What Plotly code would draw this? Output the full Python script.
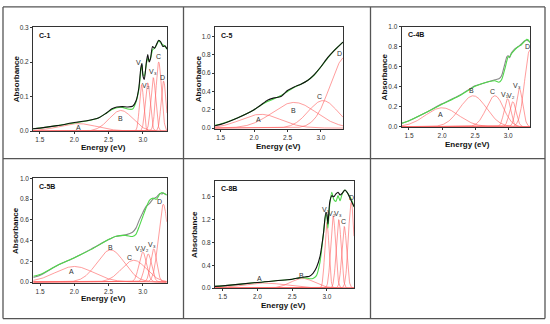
import numpy as np
import plotly.graph_objects as go

W, H = 550, 324

# ---------------- data ----------------
# C-1
E_c1 = [1.40, 1.50, 1.75, 2.00, 2.20, 2.35, 2.45, 2.55, 2.62, 2.70, 2.78, 2.85, 2.90, 2.94, 2.97, 2.985,
        3.00, 3.02, 3.05, 3.07, 3.09, 3.11, 3.14, 3.17, 3.20, 3.23, 3.26, 3.29, 3.32, 3.35]
exp_c1 = [0.007, 0.009, 0.016, 0.025, 0.031, 0.038, 0.050, 0.065, 0.070, 0.071, 0.070, 0.072, 0.088, 0.125,
          0.185, 0.195, 0.160, 0.150, 0.200, 0.222, 0.200, 0.210, 0.245, 0.240, 0.252, 0.263, 0.258, 0.245,
          0.247, 0.238]
fit_c1 = [0.007, 0.009, 0.016, 0.024, 0.030, 0.038, 0.050, 0.063, 0.068, 0.069, 0.064, 0.064, 0.085, 0.120,
          0.175, 0.190, 0.165, 0.160, 0.195, 0.210, 0.205, 0.210, 0.235, 0.240, 0.250, 0.262, 0.255, 0.250,
          0.245, 0.237]
pk_c1_center = [2.05, 2.68, 2.98, 3.07, 3.15, 3.23, 3.30]
pk_c1_height = [0.022, 0.060, 0.135, 0.140, 0.155, 0.200, 0.145]
pk_c1_sigma = [0.28, 0.17, 0.03, 0.035, 0.035, 0.04, 0.035]
lab_c1 = ["A", "B", "V₁", "V₂", "V₃", "C", "D"]
lab_c1_x = [2.06, 2.67, 2.96, 3.05, 3.14, 3.23, 3.28]
lab_c1_y = [0.010, 0.038, 0.198, 0.132, 0.172, 0.217, 0.155]

# C-5
E_c5 = [1.415, 1.5, 1.75, 2.0, 2.1, 2.2, 2.3, 2.4, 2.5, 2.6, 2.7, 2.8, 2.9, 3.0, 3.1, 3.2, 3.25, 3.33]
exp_c5 = [0.025, 0.040, 0.110, 0.200, 0.250, 0.305, 0.330, 0.345, 0.410, 0.450, 0.480, 0.520, 0.585,
          0.670, 0.770, 0.850, 0.885, 0.940]
fit_c5 = [0.030, 0.045, 0.110, 0.200, 0.250, 0.290, 0.320, 0.355, 0.400, 0.445, 0.480, 0.520, 0.580,
          0.670, 0.765, 0.850, 0.885, 0.940]
pk_c5_center = [2.10, 2.60, 3.03, 3.37]
pk_c5_height = [0.15, 0.28, 0.30, 0.78]
pk_c5_sigma = [0.30, 0.33, 0.22, 0.23]
lab_c5 = ["A", "B", "C", "D"]
lab_c5_x = [2.06, 2.59, 2.98, 3.28]
lab_c5_y = [0.09, 0.19, 0.34, 0.82]

# C-4B
E_c4b = [1.39, 1.5, 1.75, 2.0, 2.25, 2.5, 2.6, 2.7, 2.8, 2.86, 2.9, 2.95, 2.98, 3.0, 3.02, 3.05, 3.1,
         3.15, 3.2, 3.25, 3.28, 3.3, 3.33]
exp_c4b = [0.035, 0.060, 0.140, 0.230, 0.310, 0.410, 0.430, 0.450, 0.470, 0.480, 0.510, 0.630, 0.700,
           0.710, 0.690, 0.740, 0.780, 0.800, 0.830, 0.860, 0.865, 0.860, 0.850]
fit_c4b = [0.035, 0.060, 0.140, 0.225, 0.305, 0.405, 0.430, 0.450, 0.460, 0.445, 0.470, 0.580, 0.660,
           0.700, 0.700, 0.730, 0.770, 0.800, 0.820, 0.855, 0.875, 0.870, 0.840]
pk_c4b_center = [2.00, 2.47, 2.80, 2.99, 3.07, 3.17, 3.33]
pk_c4b_height = [0.19, 0.31, 0.31, 0.28, 0.25, 0.38, 0.77]
pk_c4b_sigma = [0.25, 0.20, 0.13, 0.05, 0.05, 0.05, 0.08]
lab_c4b = ["A", "B", "C", "V₁", "V₂", "V₃", "D"]
lab_c4b_x = [1.97, 2.44, 2.77, 2.95, 3.05, 3.13, 3.29]
lab_c4b_y = [0.12, 0.36, 0.35, 0.32, 0.31, 0.41, 0.80]

# C-5B
E_c5b = [1.4, 1.5, 1.75, 2.0, 2.25, 2.5, 2.6, 2.75, 2.85, 2.9, 2.95, 3.0, 3.05, 3.1, 3.15, 3.2, 3.25,
         3.28, 3.3, 3.35]
exp_c5b = [0.044, 0.065, 0.160, 0.235, 0.320, 0.410, 0.440, 0.455, 0.480, 0.520, 0.600, 0.670, 0.730,
           0.760, 0.800, 0.820, 0.855, 0.850, 0.860, 0.840]
fit_c5b = [0.055, 0.072, 0.160, 0.235, 0.315, 0.410, 0.440, 0.450, 0.440, 0.460, 0.540, 0.630, 0.720,
           0.790, 0.810, 0.800, 0.850, 0.865, 0.860, 0.840]
pk_c5b_center = [2.00, 2.53, 2.87, 3.00, 3.08, 3.16, 3.30]
pk_c5b_height = [0.15, 0.31, 0.21, 0.29, 0.27, 0.32, 0.75]
pk_c5b_sigma = [0.28, 0.20, 0.18, 0.055, 0.05, 0.045, 0.07]
lab_c5b = ["A", "B", "C", "V₁", "V₂", "V₃", "D"]
lab_c5b_x = [1.96, 2.53, 2.81, 2.94, 3.04, 3.13, 3.25]
lab_c5b_y = [0.10, 0.33, 0.24, 0.32, 0.32, 0.36, 0.78]

# C-8B
E_c8b = [1.39, 1.5, 2.0, 2.5, 2.6, 2.7, 2.75, 2.8, 2.85, 2.9, 2.95, 2.985, 3.0, 3.015, 3.04, 3.07, 3.1,
         3.13, 3.16, 3.19, 3.22, 3.26, 3.3, 3.35, 3.39]
exp_c8b = [0.03, 0.04, 0.10, 0.155, 0.18, 0.20, 0.21, 0.26, 0.36, 0.55, 0.95, 1.33, 1.30, 1.12, 1.50,
           1.62, 1.60, 1.65, 1.68, 1.63, 1.66, 1.72, 1.66, 1.53, 1.43]
fit_c8b = [0.03, 0.04, 0.10, 0.155, 0.18, 0.18, 0.165, 0.17, 0.22, 0.45, 0.95, 1.30, 1.25, 1.05, 1.45,
           1.68, 1.55, 1.52, 1.62, 1.53, 1.65, 1.72, 1.66, 1.56, 1.42]
pk_c8b_center = [2.10, 2.65, 3.00, 3.09, 3.17, 3.25, 3.35]
pk_c8b_height = [0.09, 0.17, 1.15, 1.27, 1.20, 1.08, 1.50]
pk_c8b_sigma = [0.30, 0.17, 0.03, 0.035, 0.035, 0.035, 0.04]
lab_c8b = ["A", "B", "V₁", "V₂", "V₃", "C", "D"]
lab_c8b_x = [2.03, 2.63, 2.98, 3.08, 3.16, 3.24, 3.36]
lab_c8b_y = [0.17, 0.22, 1.38, 1.30, 1.30, 1.17, 1.58]

# ---------------- layout geometry (pixels) ----------------
panels = [
    dict(name="C-1", E=E_c1, exp=exp_c1, fit=fit_c1, pc=pk_c1_center, ph=pk_c1_height, ps=pk_c1_sigma,
         lab=lab_c1, lx=lab_c1_x, ly=lab_c1_y, box=(33, 167, 24, 130), xr=[1.40, 3.35], yr=[0, 0.3],
         ydt=0.1, exp_col="#111111", exp_top=True, ytitle=(16, 77), xtitle=(103, 147)),
    dict(name="C-5", E=E_c5, exp=exp_c5, fit=fit_c5, pc=pk_c5_center, ph=pk_c5_height, ps=pk_c5_sigma,
         lab=lab_c5, lx=lab_c5_x, ly=lab_c5_y, box=(215, 343, 24, 127.7), xr=[1.415, 3.33], yr=[-0.01, 1.1],
         ydt=0.2, exp_col="#111111", exp_top=True, ytitle=(198, 77), xtitle=(278, 146)),
    dict(name="C-4B", E=E_c4b, exp=exp_c4b, fit=fit_c4b, pc=pk_c4b_center, ph=pk_c4b_height, ps=pk_c4b_sigma,
         lab=lab_c4b, lx=lab_c4b_x, ly=lab_c4b_y, box=(401.7, 530, 23.3, 126), xr=[1.39, 3.33], yr=[-0.005, 1.0],
         ydt=0.2, exp_col="#888888", exp_top=False, ytitle=(384, 75), xtitle=(467, 144)),
    dict(name="C-5B", E=E_c5b, exp=exp_c5b, fit=fit_c5b, pc=pk_c5b_center, ph=pk_c5b_height, ps=pk_c5b_sigma,
         lab=lab_c5b, lx=lab_c5b_x, ly=lab_c5b_y, box=(33.3, 166.7, 178.3, 285), xr=[1.40, 3.35], yr=[-0.008, 1.0],
         ydt=0.2, exp_col="#888888", exp_top=False, ytitle=(16, 232), xtitle=(103, 301)),
    dict(name="C-8B", E=E_c8b, exp=exp_c8b, fit=fit_c8b, pc=pk_c8b_center, ph=pk_c8b_height, ps=pk_c8b_sigma,
         lab=lab_c8b, lx=lab_c8b_x, ly=lab_c8b_y, box=(215, 354, 180.7, 290.7), xr=[1.39, 3.39], yr=[-0.005, 1.88],
         ydt=0.4, exp_col="#111111", exp_top=True, ytitle=(195, 236), xtitle=(283, 308)),
]

FONT = "Arial, Liberation Sans, DejaVu Sans, sans-serif"
RED = "rgba(255,100,100,0.8)"
GREEN = "#4fd84a"

fig = go.Figure()
annotations = []
shapes = []
layout = dict(width=W, height=H, margin=dict(l=0, r=0, t=0, b=0), paper_bgcolor="white",
              plot_bgcolor="white", showlegend=False, font=dict(family=FONT))

for i, p in enumerate(panels):
    k = "" if i == 0 else str(i + 1)
    xa, ya = "x" + k, "y" + k
    x0, x1, y0, y1 = p["box"]
    grid = np.linspace(p["xr"][0], p["xr"][1], 400)
    for c, h, s in zip(p["pc"], p["ph"], p["ps"]):
        fig.add_trace(go.Scatter(x=grid, y=h * np.exp(-(grid - c) ** 2 / (2 * s * s)), mode="lines",
                                 line=dict(color=RED, width=0.8), xaxis=xa, yaxis=ya, hoverinfo="skip"))
    exp_tr = go.Scatter(x=p["E"], y=p["exp"], mode="lines", line=dict(color=p["exp_col"], width=1.1,
                        shape="spline", smoothing=0.6), xaxis=xa, yaxis=ya)
    fit_tr = go.Scatter(x=p["E"], y=p["fit"], mode="lines", line=dict(color=GREEN, width=1.1,
                        shape="spline", smoothing=0.6), xaxis=xa, yaxis=ya)
    if p["exp_top"]:
        fig.add_trace(fit_tr)
        fig.add_trace(exp_tr)
    else:
        fig.add_trace(exp_tr)
        fig.add_trace(fit_tr)

    common = dict(showline=True, mirror=True, linecolor="#333", linewidth=1, ticks="outside", ticklen=2,
                  tickwidth=0.8, tickcolor="#333", showgrid=False, zeroline=False,
                  tickfont=dict(size=6.5, color="#333", family=FONT))
    layout["xaxis" + k] = dict(common, domain=[x0 / W, x1 / W], range=p["xr"], anchor=ya,
                               tickvals=[1.5, 2.0, 2.5, 3.0], tickformat=".1f")
    ytv = [float(v) for v in np.round(np.arange(0, p["yr"][1] + 1e-9, p["ydt"]), 2)]
    layout["yaxis" + k] = dict(common, domain=[1 - y1 / H, 1 - y0 / H], range=p["yr"], anchor=xa,
                               tickvals=ytv, tickformat=".1f")
    # panel label
    annotations.append(dict(x=(x0 + 4) / W, y=1 - (y0 + 8) / H, xref="paper", yref="paper",
                            text="<b>%s</b>" % p["name"], showarrow=False, xanchor="left", yanchor="middle",
                            font=dict(size=7, color="#111", family=FONT)))
    # axis titles
    annotations.append(dict(x=p["ytitle"][0] / W, y=1 - p["ytitle"][1] / H, xref="paper", yref="paper",
                            text="<b>Absorbance</b>", textangle=-90, showarrow=False,
                            xanchor="center", yanchor="middle",
                            font=dict(size=8, color="#111", family=FONT)))
    annotations.append(dict(x=p["xtitle"][0] / W, y=1 - p["xtitle"][1] / H, xref="paper", yref="paper",
                            text="<b>Energy (eV)</b>", showarrow=False, xanchor="center", yanchor="middle",
                            font=dict(size=8, color="#111", family=FONT)))
    # peak labels
    for t, lx, ly in zip(p["lab"], p["lx"], p["ly"]):
        annotations.append(dict(x=lx, y=ly, xref=xa, yref=ya, text=t, showarrow=False,
                                xanchor="center", yanchor="middle",
                                font=dict(size=7, color="#333", family=FONT)))

# table grid lines
gx = [3, 183.5, 370.5, 545]
gy = [3, 158, 321.5]
for x in gx:
    shapes.append(dict(type="line", xref="paper", yref="paper", x0=x / W, x1=x / W, y0=1 - gy[0] / H,
                       y1=1 - gy[-1] / H, line=dict(color="#555", width=1.3)))
for y in gy:
    shapes.append(dict(type="line", xref="paper", yref="paper", x0=gx[0] / W, x1=gx[-1] / W, y0=1 - y / H,
                       y1=1 - y / H, line=dict(color="#555", width=1.3)))

layout["annotations"] = annotations
layout["shapes"] = shapes
fig.update_layout(**layout)
fig.write_html("out.html", config={"displayModeBar": False},
               post_script="document.body.style.margin='0px';")
